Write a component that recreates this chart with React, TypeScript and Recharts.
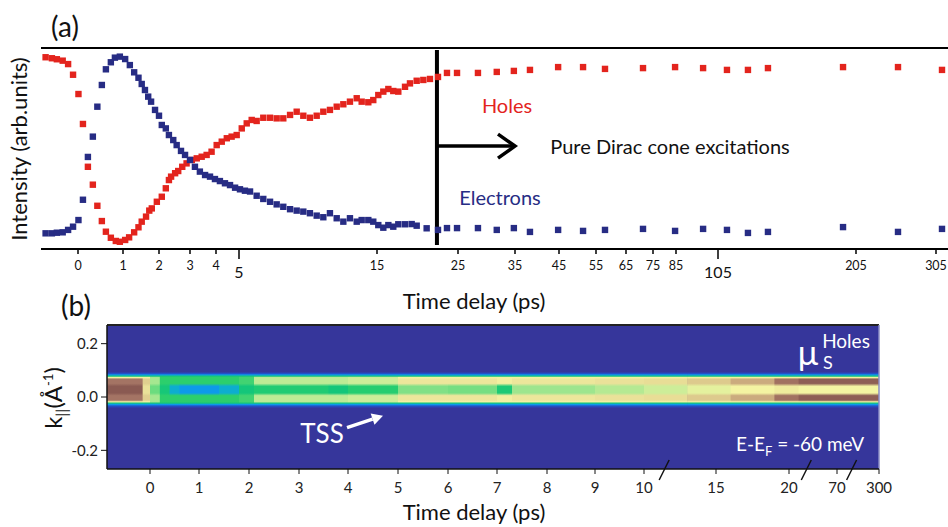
import React from "react";
import {
  ScatterChart,
  ComposedChart,
  Scatter,
  XAxis,
  YAxis,
  ReferenceLine,
  ReferenceArea,
} from "recharts";

// ---- panel (a): normalised intensity vs time delay (ps)
const holesTime = [
  -0.72, -0.58, -0.47, -0.34, -0.22, -0.11, 0.01, 0.11, 0.22, 0.33,
  0.43, 0.53, 0.62, 0.73, 0.84, 0.93, 1.06, 1.17, 1.31, 1.43,
  1.52, 1.64, 1.73, 1.8, 1.94, 2.09, 2.22, 2.32, 2.39, 2.52,
  2.62, 2.75, 2.89, 3.07, 3.26, 3.45, 3.64, 3.83, 4.03, 4.25,
  4.47, 4.68, 4.9, 5.2, 5.56, 5.92, 6.28, 6.76, 7.25, 7.73,
  8.21, 8.7, 9.18, 9.66, 10.14, 10.63, 11.11, 11.59, 12.08, 12.56,
  13.04, 13.53, 13.89, 14.37, 14.73, 15.16, 15.78, 16.4, 17.01, 17.63,
  18.46, 19.07, 19.9, 20.72, 21.54, 22.53, 23.64, 24.88, 28.5, 31.8,
  34.8, 38.4, 44.8, 51.5, 58, 71.3, 84.6, 97.9, 111.5, 126.7,
  141.2, 195.6, 257.5, 312.5,
];
const holesValue = [
  95.4, 94.9, 94.4, 93.7, 92.0, 86.7, 77.1, 62.2, 40.9, 32.0,
  21.5, 13.9, 8.6, 5.6, 4.0, 3.6, 4.5, 5.8, 8.3, 10.8,
  13.6, 16.1, 19.1, 20.2, 23.5, 26.0, 30.2, 34.3, 36.0, 37.7,
  38.8, 40.9, 42.6, 44.3, 45.1, 45.9, 46.8, 48.4, 51.7, 53.4,
  55.1, 55.9, 56.7, 60.0, 62.5, 64.2, 63.7, 65.3, 65.3, 65.0,
  65.0, 66.7, 68.3, 66.3, 65.3, 66.3, 68.3, 69.2, 70.8, 72.0,
  73.3, 75.0, 73.3, 73.0, 74.1, 76.6, 78.3, 79.6, 78.6, 78.3,
  80.7, 82.4, 83.7, 84.1, 84.6, 85.6, 87.6, 87.6, 87.6, 88.1,
  88.6, 89.1, 90.5, 90.5, 89.6, 90.0, 90.5, 90.0, 89.1, 89.1,
  90.0, 90.5, 90.5, 89.1,
];
const electronsTime = [
  -0.72, -0.58, -0.47, -0.34, -0.22, -0.11, 0.01, 0.11, 0.22, 0.33,
  0.43, 0.53, 0.62, 0.73, 0.82, 0.93, 1.06, 1.19, 1.31, 1.43,
  1.52, 1.61, 1.7, 1.78, 1.89, 2.0, 2.09, 2.22, 2.32, 2.46,
  2.57, 2.71, 2.84, 3.0, 3.19, 3.38, 3.58, 3.77, 3.96, 4.17,
  4.39, 4.61, 4.83, 5.07, 5.43, 5.8, 6.28, 6.76, 7.25, 7.73,
  8.21, 8.7, 9.18, 9.66, 10.14, 10.63, 11.11, 11.59, 12.08, 12.56,
  13.04, 13.53, 13.89, 14.37, 14.73, 15.16, 15.78, 16.4, 17.01, 17.63,
  18.46, 19.28, 19.9, 21.13, 22.53, 23.64, 24.88, 28.5, 31.8, 34.8,
  38.4, 44.8, 51.5, 58, 71.3, 84.6, 97.9, 111.5, 126.7, 141.2,
  195.6, 257.5, 312.5,
];
const electronsValue = [
  7.8, 7.8, 8.1, 8.3, 9.5, 11.1, 14.4, 24.5, 45.8, 55.9,
  70.8, 81.6, 89.4, 92.9, 95.2, 95.7, 94.5, 91.5, 87.9, 85.2,
  82.1, 79.1, 75.8, 73.3, 69.2, 66.3, 61.7, 60.0, 56.7, 54.2,
  51.7, 48.8, 46.8, 44.3, 40.9, 38.5, 36.8, 36.0, 34.8, 33.8,
  32.7, 31.8, 30.5, 29.7, 29.0, 28.6, 26.5, 24.9, 23.5, 22.2,
  21.0, 19.8, 19.1, 18.6, 17.8, 16.6, 15.8, 17.8, 15.3, 13.6,
  15.3, 13.6, 14.4, 14.4, 13.6, 11.9, 10.6, 11.9, 11.1, 12.3,
  12.3, 12.4, 11.6, 10.3, 9.5, 10.4, 10.4, 10.4, 9.5, 10.4,
  8.5, 9.5, 9.0, 9.5, 10.0, 9.0, 10.0, 9.5, 8.0, 8.5,
  10.9, 8.5, 10.0,
];

// broken time axes: tick labels and their spacing along the axis
const tickTimesA = [0, 1, 2, 3, 4, 5, 15, 25, 35, 45, 55, 65, 75, 85, 105, 205, 305];
const tickSpanA = [0, 45, 81, 112, 138, 161, 299, 380, 437, 481, 518, 548, 575, 598, 640, 778, 858];
const bigTicksA = [5, 105];
const cutTimeA = 22.4; // start of "pure Dirac cone" regime
const arrowEndA = 35;

// ---- panel (b): k|| vs time delay map
const tickTimesB = [0, 1, 2, 3, 4, 5, 6, 7, 8, 9, 10, 15, 20, 70, 300];
const tickSpanB = [0, 49, 99, 149, 198, 248, 298, 347, 397, 445, 494, 566, 639, 687, 729];
const breaksB = [11.4, 38, 150];
const kTicks = [-0.2, 0, 0.2];

// map columns (start time), intensity of the two branches and of the centre
const colStart = [-0.9, -0.15, 0, 0.2, 0.4, 0.6, 1.4, 1.8, 2.1, 3.0, 3.6, 4.0, 5.0, 6.0, 7.0, 7.3, 9.0, 10, 13, 16, 19, 30];
const lineLevel = [0.93, 0.8, 0.62, 0.5, 0.5, 0.5, 0.5, 0.52, 0.65, 0.65, 0.65, 0.67, 0.75, 0.75, 0.73, 0.75, 0.76, 0.77, 0.81, 0.86, 0.94, 0.99];
const centerLevel = [1.0, 0.76, 0.56, 0.43, 0.33, 0.28, 0.33, 0.42, 0.46, 0.46, 0.42, 0.48, 0.58, 0.57, 0.45, 0.61, 0.64, 0.67, 0.7, 0.72, 0.74, 0.72];
const colEndTime = 300;

const RED = "#e3241d";
const BLUE = "#272c84";
const BG = "#36369b";

const makeWarp = (times: number[], span: number[]) => (t: number) => {
  let i = 0;
  while (i < times.length - 2 && t > times[i + 1]) i++;
  return span[i] + ((t - times[i]) / (times[i + 1] - times[i])) * (span[i + 1] - span[i]);
};
const warpA = makeWarp(tickTimesA, tickSpanA);
const warpB = makeWarp(tickTimesB, tickSpanB);

const holes = holesTime.map((t, i) => ({ x: warpA(t), y: holesValue[i] }));
const electrons = electronsTime.map((t, i) => ({ x: warpA(t), y: electronsValue[i] }));

const cmapStops: [number, string][] = [
  [0, "#36369b"],
  [0.15, "#1e58d4"],
  [0.3, "#0aa4ec"],
  [0.42, "#14c67a"],
  [0.5, "#2ccf6c"],
  [0.6, "#96e48c"],
  [0.72, "#f4f4a2"],
  [0.84, "#d6bc86"],
  [0.92, "#a87866"],
  [1, "#8a5a52"],
];
const hex = (h: string) => [1, 3, 5].map((i) => parseInt(h.slice(i, i + 2), 16));
function cmap(v: number) {
  for (let i = 0; i < cmapStops.length - 1; i++) {
    const [a, ca] = cmapStops[i];
    const [b, cb] = cmapStops[i + 1];
    if (v <= b) {
      const f = Math.max(0, (v - a) / (b - a));
      const A = hex(ca);
      const B = hex(cb);
      return `rgb(${A.map((c, j) => Math.round(c + (B[j] - c) * f)).join(",")})`;
    }
  }
  return cmapStops[cmapStops.length - 1][1];
}
const bandTop = 0.094;
const bandBottom = -0.046;
const bandProfile = (line: number, center: number): [number, number][] => [
  [0.094, 0],
  [0.088, 0.12],
  [0.083, 0.28],
  [0.078, 0.42],
  [0.073, Math.min(0.72, line)],
  [0.067, line],
  [0.051, line],
  [0.04, center],
  [0.015, center],
  [0.005, line],
  [-0.012, line],
  [-0.018, Math.min(0.72, line)],
  [-0.023, 0.42],
  [-0.028, 0.28],
  [-0.034, 0.12],
  [-0.042, 0],
];

const square = (color: string) => (p: any) => (
  <rect x={p.cx - 3.2} y={p.cy - 3.2} width={6.4} height={6.4} fill={color} />
);

function TickA(props: any) {
  const { x, y, payload } = props;
  const i = tickSpanA.findIndex((s) => Math.abs(s - payload.value) < 0.01);
  const label = tickTimesA[i];
  const big = bigTicksA.includes(label);
  return (
    <g>
      <line x1={x} x2={x} y1={y} y2={y + (big ? 10 : 5)} stroke="#000" strokeWidth={1.5} />
      <text x={x} y={y + (big ? 29 : 21)} textAnchor="middle" fontSize={big ? 16 : 12.5} fill="#111">
        {label}
      </text>
    </g>
  );
}

const labelB = (v: number) => {
  const i = tickSpanB.findIndex((s) => Math.abs(s - v) < 0.01);
  return String(tickTimesB[i]);
};

const arrowA = (p: any) => {
  const { x1, y1, x2, y2 } = p;
  return (
    <g stroke="#000" strokeWidth={3.5} fill="none">
      <line x1={x1} y1={y1} x2={x2 - 1} y2={y2} />
      <polyline points={`${x2 - 17},${y2 - 12} ${x2},${y2} ${x2 - 17},${y2 + 12}`} />
    </g>
  );
};

const arrowTSS = (p: any) => {
  const { x1, y1, x2, y2 } = p;
  const a = Math.atan2(y2 - y1, x2 - x1);
  const L = 11;
  const W = 6;
  const bx = x2 - L * Math.cos(a);
  const by = y2 - L * Math.sin(a);
  const nx = -Math.sin(a) * W;
  const ny = Math.cos(a) * W;
  return (
    <g>
      <line x1={x1} y1={y1} x2={bx} y2={by} stroke="#fff" strokeWidth={3.5} />
      <polygon points={`${x2},${y2} ${bx + nx},${by + ny} ${bx - nx},${by - ny}`} fill="#fff" />
    </g>
  );
};

const breakMark = (p: any) => {
  const { x1, y1 } = p;
  return <line x1={x1 - 5} y1={y1 + 11} x2={x1 + 5} y2={y1 - 9} stroke="#111" strokeWidth={1.5} />;
};

function Txt({ x, y, size, color = "#111", rotate = 0, children }: any) {
  return (
    <div
      style={{
        position: "absolute",
        left: x,
        top: y,
        transform: `translate(-50%,-50%) rotate(${rotate}deg)`,
        fontSize: size,
        color,
        lineHeight: 1,
        whiteSpace: "nowrap",
      }}
    >
      {children}
    </div>
  );
}

export default function App() {
  const cols = colStart.map((s, i) => ({
    s,
    e: i < colStart.length - 1 ? colStart[i + 1] : colEndTime,
    line: lineLevel[i],
    center: centerLevel[i],
  }));
  const colPts = cols.map((c) => ({ x: warpB(c.s), y: 0 }));

  return (
    <div
      style={{
        position: "absolute",
        left: 0,
        top: 0,
        width: 948,
        height: 527,
        background: "#fff",
        overflow: "hidden",
        fontFamily: "Lato, 'Open Sans', sans-serif",
        color: "#111",
      }}
    >
      <svg width={0} height={0} style={{ position: "absolute" }}>
        <defs>
          {cols.map((c, i) => (
            <linearGradient key={i} id={`col${i}`} x1="0" y1="0" x2="0" y2="1">
              {bandProfile(c.line, c.center).map(([k, v], j) => (
                <stop key={j} offset={(bandTop - k) / (bandTop - bandBottom)} stopColor={cmap(v)} />
              ))}
            </linearGradient>
          ))}
        </defs>
      </svg>

      <div style={{ position: "absolute", left: 0, top: 0 }}>
        <ScatterChart width={948} height={300} margin={{ top: 48, right: 0, bottom: 21, left: 41 }}>
          <XAxis
            type="number"
            dataKey="x"
            domain={[-37, 870]}
            ticks={tickTimesA.map(warpA)}
            interval={0}
            tick={<TickA />}
            tickSize={0}
            tickMargin={0}
            tickLine={false}
            axisLine={{ stroke: "#000", strokeWidth: 2 }}
            height={30}
            allowDataOverflow
          />
          <YAxis
            type="number"
            dataKey="y"
            domain={[0, 100]}
            width={0}
            tick={false}
            tickLine={false}
            axisLine={{ stroke: "#000", strokeWidth: 2 }}
          />
          <ReferenceLine y={100} stroke="#000" strokeWidth={2} />
          <Scatter data={holes} shape={square(RED)} isAnimationActive={false} />
          <Scatter data={electrons} shape={square(BLUE)} isAnimationActive={false} />
          <ReferenceLine
            segment={[
              { x: warpA(cutTimeA), y: 99 },
              { x: warpA(cutTimeA), y: 2 },
            ]}
            stroke="#000"
            strokeWidth={4}
          />
          <ReferenceLine
            segment={[
              { x: warpA(cutTimeA), y: 51.2 },
              { x: warpA(arrowEndA), y: 51.2 },
            ]}
            shape={arrowA}
          />
        </ScatterChart>
      </div>

      <div style={{ position: "absolute", left: 0, top: 300 }}>
        <ComposedChart width={948} height={227} margin={{ top: 25, right: 69, bottom: 28, left: 57 }}>
          <ReferenceArea x1={-43} x2={729} y1={-0.27} y2={0.27} fill={BG} fillOpacity={1} stroke="none" />
          {cols.map((c, i) => (
            <ReferenceArea
              key={i}
              x1={warpB(c.s)}
              x2={warpB(c.e) + 0.6}
              y1={bandBottom}
              y2={bandTop}
              fill={`url(#col${i})`}
              fillOpacity={1}
              stroke="none"
              ifOverflow="hidden"
            />
          ))}
          <XAxis
            type="number"
            dataKey="x"
            domain={[-43, 729]}
            ticks={tickTimesB.map(warpB)}
            interval={0}
            tickFormatter={labelB}
            tickSize={5}
            tickMargin={8}
            tick={{ fontSize: 15, fill: "#222" }}
            tickLine={{ stroke: "#111" }}
            axisLine={{ stroke: "#111", strokeWidth: 1.5 }}
            height={30}
            allowDataOverflow
          />
          <YAxis
            type="number"
            dataKey="y"
            domain={[-0.27, 0.27]}
            ticks={kTicks}
            tickFormatter={(v: number) => v.toFixed(1)}
            tickSize={6}
            tickMargin={3}
            tick={{ fontSize: 15, fill: "#222" }}
            tickLine={{ stroke: "#111" }}
            axisLine={{ stroke: "#111", strokeWidth: 1.5 }}
            width={50}
            allowDataOverflow
          />
          <ReferenceLine y={0.27} stroke="#222" strokeWidth={2} />
          <ReferenceLine x={729} stroke="#8a8cc4" strokeWidth={1.5} />
          <Scatter data={colPts} shape={() => <g />} isAnimationActive={false} />
          {breaksB.map((b) => (
            <ReferenceLine
              key={b}
              segment={[
                { x: warpB(b), y: -0.27 },
                { x: warpB(b), y: -0.27 },
              ]}
              ifOverflow="visible"
              shape={breakMark}
            />
          ))}
          <ReferenceLine
            segment={[
              { x: warpB(3.98), y: -0.115 },
              { x: warpB(4.7), y: -0.07 },
            ]}
            shape={arrowTSS}
          />
        </ComposedChart>
      </div>

      <Txt x={65} y={26} size={28}>(a)</Txt>
      <Txt x={76} y={305} size={28}>(b)</Txt>
      <Txt x={19} y={149} size={22} rotate={-90}>Intensity (arb.units)</Txt>
      <Txt x={474} y={301} size={22}>Time delay (ps)</Txt>
      <Txt x={474} y={512} size={22}>Time delay (ps)</Txt>
      <Txt x={507} y={105} size={20} color={RED}>Holes</Txt>
      <Txt x={500} y={197} size={20} color={BLUE}>Electrons</Txt>
      <Txt x={670} y={146} size={20}>Pure Dirac cone excitations</Txt>
      <Txt x={55} y={398} size={24} rotate={-90}>
        k<sub style={{ fontSize: 16 }}>||</sub>(Å<sup style={{ fontSize: 13 }}>-1</sup>)
      </Txt>
      <Txt x={322} y={433} size={26} color="#fff">TSS</Txt>
      <Txt x={808} y={352} size={34} color="#fff">μ</Txt>
      <Txt x={828} y={362} size={18} color="#fff">S</Txt>
      <Txt x={846} y={340} size={19} color="#fff">Holes</Txt>
      <Txt x={800} y={446} size={19} color="#fff">
        E-E<sub style={{ fontSize: 13 }}>F</sub> = -60 meV
      </Txt>
    </div>
  );
}
